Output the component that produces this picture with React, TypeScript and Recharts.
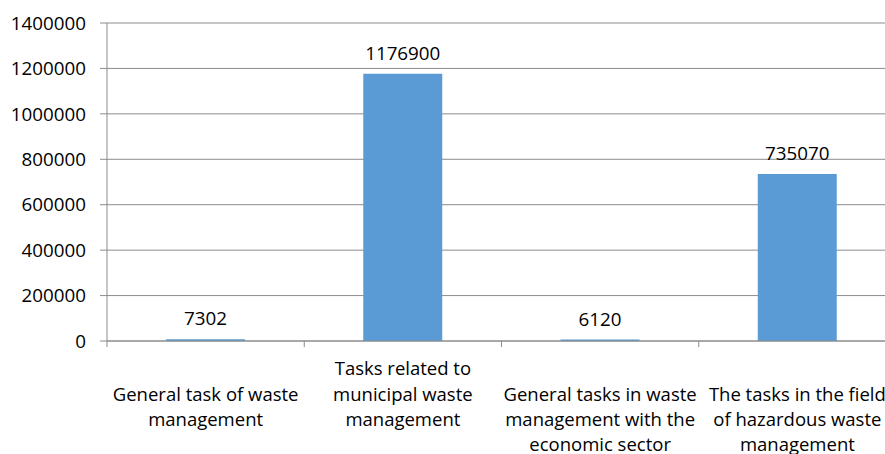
import React from "react";
import { BarChart, Bar, XAxis, YAxis, CartesianGrid, LabelList } from "recharts";

const categories = [
  "General task of waste management",
  "Tasks related to municipal waste management",
  "General tasks in waste management with the economic sector",
  "The tasks in the field of hazardous waste management",
];
const labelLines = [
  ["", "General task of waste", "management"],
  ["Tasks related to", "municipal waste", "management"],
  ["", "General tasks in waste", "management with the", "economic sector"],
  ["", "The tasks in the field", "of hazardous waste", "management"],
];
const values = [7302, 1176900, 6120, 735070];
const yTicks = [0, 200000, 400000, 600000, 800000, 1000000, 1200000, 1400000];

const data = categories.map((c, i) => ({ name: c, value: values[i], idx: i }));

const FONT = "'Open Sans', sans-serif";
const GRAY = "#8c8c8c";

const XTick = (props: any) => {
  const { x, y, payload, index } = props;
  const half = payload.offset || 0;
  const lines = labelLines[index] || [];
  return (
    <g>
      <line x1={x - half} x2={x - half} y1={y - 8} y2={y - 2} stroke={GRAY} />
      {index === categories.length - 1 && (
        <line x1={x + half} x2={x + half} y1={y - 8} y2={y - 2} stroke={GRAY} />
      )}
      <text
        x={x}
        y={y}
        textAnchor="middle"
        fontFamily={FONT}
        fontSize={18.5}
        fill="#000"
      >
        {lines.map((l, i) => (
          <tspan key={i} x={x} y={y + 20 + i * 25.3} dy="0.35em">
            {l}
          </tspan>
        ))}
      </text>
    </g>
  );
};

export default function App() {
  return (
    <div style={{ position: "absolute", left: 0, top: 0, background: "#fff" }}>
      <BarChart
        width={900}
        height={480}
        data={data}
        margin={{ top: 23, right: 4, bottom: 0, left: 0 }}
        barCategoryGap={0}
      >
        <CartesianGrid vertical={false} stroke={GRAY} strokeDasharray="" />
        <XAxis
          dataKey="name"
          height={139}
          axisLine={{ stroke: GRAY }}
          tickLine={false}
          interval={0}
          tick={<XTick />}
        />
        <YAxis
          width={107}
          domain={[0, 1400000]}
          ticks={yTicks}
          interval={0}
          axisLine={{ stroke: GRAY }}
          tickLine={{ stroke: GRAY }}
          tickSize={7}
          tickMargin={14}
          tick={{ fontFamily: FONT, fontSize: 18.8, fill: "#000" }}
        />
        <Bar dataKey="value" fill="#5b9bd5" barSize={79} isAnimationActive={false}>
          <LabelList
            dataKey="value"
            position="top"
            offset={14}
            style={{ fontFamily: FONT, fontSize: 18.8, fill: "#000" }}
          />
        </Bar>
      </BarChart>
    </div>
  );
}
